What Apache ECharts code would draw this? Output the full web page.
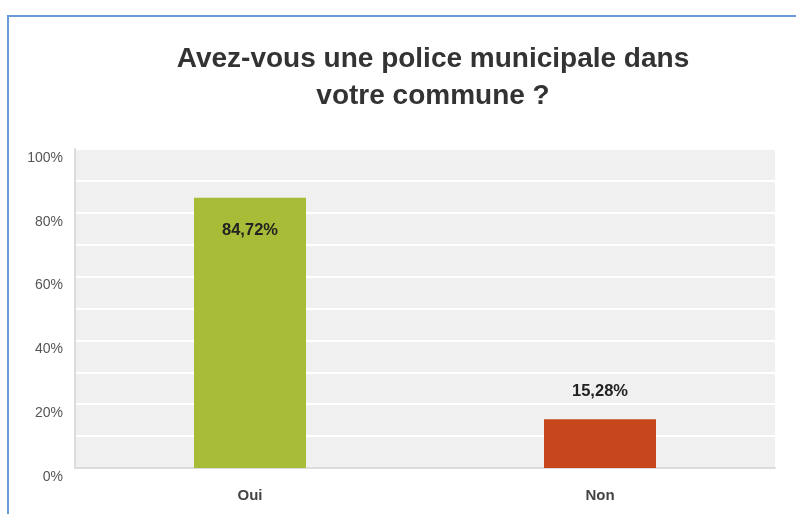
<!DOCTYPE html>
<html><head><meta charset="utf-8">
<script src="https://cdn.jsdelivr.net/npm/echarts@6/dist/echarts.min.js"></script>
<style>html,body{margin:0;padding:0;background:#fff}#c{width:796px;height:514px}</style>
</head><body><div id="c"></div>
<script>
const categories = ['Oui', 'Non'];
const values = [84.72, 15.28];
const colors = ['#a9bc38', '#c8461b'];
const labelPositions = ['insideTop', 'top'];
const yTicks = [0, 20, 40, 60, 80, 100];

const chart = echarts.init(document.getElementById('c'), null, {renderer: 'canvas'});
chart.setOption({
  animation: false,
  backgroundColor: '#fff',
  graphic: [{
    type: 'rect', silent: true, z: 100,
    shape: {x: 8, y: 16, width: 820, height: 540},
    style: {fill: 'none', stroke: '#6b9ad8', lineWidth: 2}
  }],
  title: {
    text: 'Avez-vous une police municipale dans\nvotre commune ?',
    left: 428, top: 36, textAlign: 'center',
    textStyle: {fontFamily: 'Liberation Sans', fontSize: 28, fontWeight: 'bold', color: '#333', lineHeight: 37}
  },
  grid: {left: 75, right: 21, top: 149, bottom: 46, show: true, backgroundColor: '#f0f0f0', borderWidth: 0},
  xAxis: {
    type: 'category', data: categories,
    axisLine: {lineStyle: {color: '#dcdcdc', width: 2}},
    axisTick: {show: false},
    axisLabel: {margin: 20, fontFamily: 'Liberation Sans', fontSize: 15, fontWeight: 'bold', color: '#444'}
  },
  yAxis: {
    type: 'value', min: 0, max: 100, interval: 20,
    axisLine: {show: true, lineStyle: {color: '#dcdcdc', width: 2}},
    axisTick: {show: false},
    splitLine: {lineStyle: {color: '#ffffff', width: 2}},
    minorTick: {show: false, splitNumber: 2},
    minorSplitLine: {show: true, lineStyle: {color: '#ffffff', width: 2}},
    axisLabel: {
      margin: 12, fontFamily: 'Liberation Sans', fontSize: 14, color: '#555',
      verticalAlign: 'top', padding: [2, 0, 0, 0],
      formatter: v => yTicks.includes(v) ? v + '%' : ''
    }
  },
  series: [{
    type: 'bar', barWidth: '32%',
    data: values.map((v, i) => ({
      value: v,
      itemStyle: {color: colors[i]},
      label: {position: labelPositions[i], distance: labelPositions[i] === 'top' ? 19 : 24}
    })),
    label: {
      show: true, fontFamily: 'Liberation Sans', fontSize: 16.5, fontWeight: 'bold', color: '#222',
      formatter: p => p.value.toFixed(2).replace('.', ',') + '%'
    }
  }]
});
</script></body></html>
